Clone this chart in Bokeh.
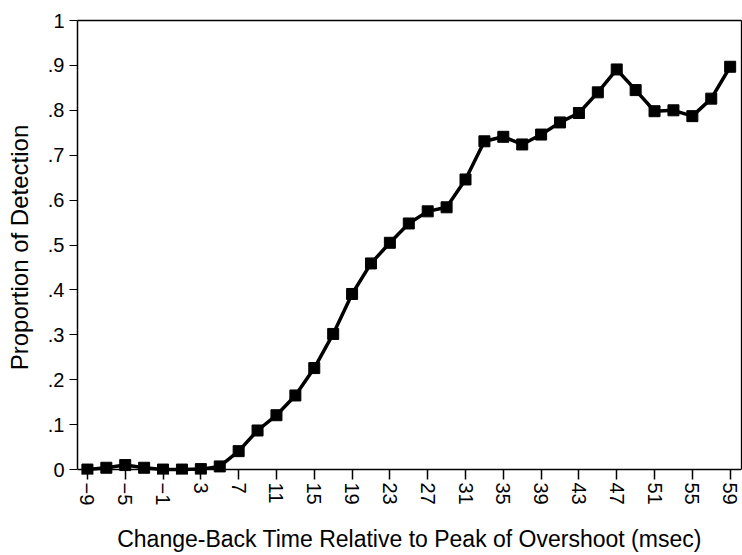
from bokeh.plotting import figure
from bokeh.models import Range1d, FixedTicker, LinearAxis, Span, CustomJSTickFormatter
from bokeh.embed import file_html
from bokeh.resources import INLINE

# ---- data ----
x_values = [-9, -7, -5, -3, -1, 1, 3, 5, 7, 9, 11, 13, 15, 17, 19, 21, 23, 25,
            27, 29, 31, 33, 35, 37, 39, 41, 43, 45, 47, 49, 51, 53, 55, 57, 59]
proportions = [0.0, 0.004, 0.010, 0.004, 0.0, 0.0, 0.001, 0.007, 0.041, 0.087,
               0.121, 0.165, 0.226, 0.302, 0.391, 0.459, 0.505, 0.548, 0.575,
               0.584, 0.646, 0.731, 0.741, 0.724, 0.746, 0.773, 0.794, 0.840,
               0.891, 0.845, 0.798, 0.800, 0.787, 0.826, 0.897]

x_tick_values = [-9, -5, -1, 3, 7, 11, 15, 19, 23, 27, 31, 35, 39, 43, 47, 51, 55, 59]
x_tick_labels = ["\u22129", "\u22125", "\u22121", "3", "7", "11", "15", "19", "23",
                 "27", "31", "35", "39", "43", "47", "51", "55", "59"]
y_tick_values = [0, 0.1, 0.2, 0.3, 0.4, 0.5, 0.6, 0.7, 0.8, 0.9, 1.0]
y_tick_labels = ["0", ".1", ".2", ".3", ".4", ".5", ".6", ".7", ".8", ".9", "1"]

x_label = "Change-Back Time Relative to Peak of Overshoot (msec)"
y_label = "Proportion of Detection"

FONT = "Liberation Sans"

p = figure(width=742, height=555, output_backend="svg", toolbar_location=None,
           x_range=Range1d(-10.05, 60.2), y_range=Range1d(-0.011, 1.0),
           min_border_left=77, min_border_top=20, min_border_right=1,
           min_border_bottom=77, x_axis_label=x_label, y_axis_label=y_label)
p.outline_line_color = None
p.grid.visible = False
p.background_fill_color = "white"
p.border_fill_color = "white"

fmt_code = """
const i = vals.findIndex(v => Math.abs(v - tick) < 1e-9);
return i >= 0 ? labs[i] : '';
"""

xa = p.xaxis[0]
xa.ticker = FixedTicker(ticks=x_tick_values, minor_ticks=[])
xa.formatter = CustomJSTickFormatter(args=dict(vals=x_tick_values, labs=x_tick_labels), code=fmt_code)
xa.major_label_orientation = "vertical"
xa.axis_line_color = None
xa.major_tick_in = 5
xa.major_tick_out = 5
xa.major_tick_line_color = "black"
xa.major_tick_line_width = 1.5
xa.major_label_standoff = 3
xa.major_label_text_font = FONT
xa.major_label_text_font_size = "20px"
xa.major_label_text_color = "black"
xa.axis_label_text_font = FONT
xa.axis_label_text_font_size = "23px"
xa.axis_label_text_font_style = "normal"
xa.axis_label_text_color = "black"
xa.axis_label_standoff = 18

ya = p.yaxis[0]
ya.ticker = FixedTicker(ticks=y_tick_values, minor_ticks=[])
ya.formatter = CustomJSTickFormatter(args=dict(vals=y_tick_values, labs=y_tick_labels), code=fmt_code)
ya.bounds = (0, 1)
ya.axis_line_color = "black"
ya.axis_line_width = 1.5
ya.major_tick_in = 0
ya.major_tick_out = 8
ya.major_tick_line_color = "black"
ya.major_tick_line_width = 1.2
ya.major_label_standoff = 5
ya.major_label_text_font = FONT
ya.major_label_text_font_size = "20px"
ya.major_label_text_color = "black"
ya.axis_label_text_font = FONT
ya.axis_label_text_font_size = "24px"
ya.axis_label_text_font_style = "normal"
ya.axis_label_text_color = "black"
ya.axis_label_standoff = 12

# frame top and right edges
for loc in ("above", "right"):
    ax = LinearAxis(ticker=FixedTicker(ticks=[], minor_ticks=[]),
                    major_tick_out=0, major_tick_in=0, minor_tick_out=0, minor_tick_in=0,
                    major_label_text_font_size="0px", major_label_standoff=0,
                    axis_line_color="black", axis_line_width=1.3)
    if loc == "right":
        ax.bounds = (0, 1)
    p.add_layout(ax, loc)

# x axis line drawn at y = 0
p.add_layout(Span(location=0, dimension="width", line_color="black", line_width=1.5))

p.line(x_values, proportions, line_width=3.5, line_color="black")
p.scatter(x_values, proportions, marker="square", size=11,
          fill_color="black", line_color="black")

open("out.html", "w").write(file_html(p, INLINE))
